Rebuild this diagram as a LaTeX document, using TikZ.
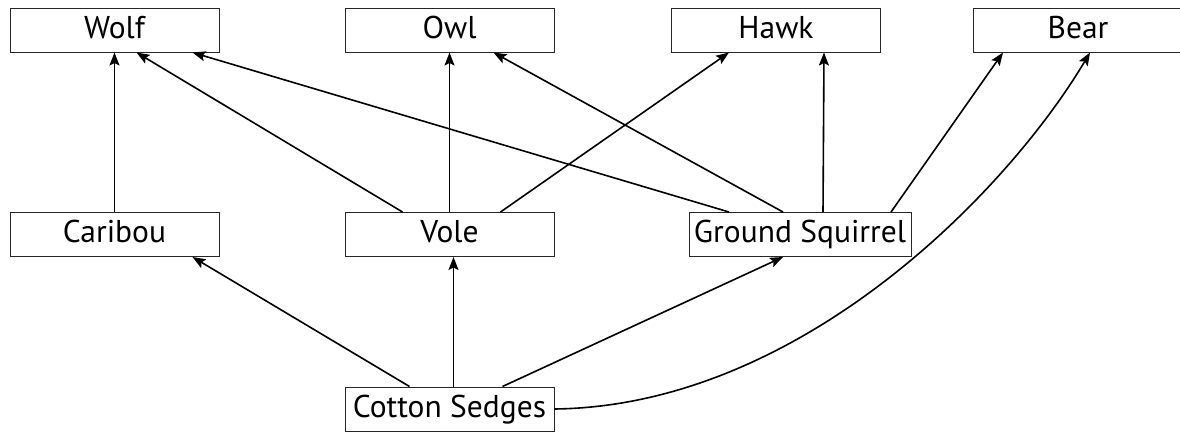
\documentclass[tikz,border=0pt]{standalone}
\usepackage{fontspec}
\setmainfont{PT Sans}
\usetikzlibrary{arrows.meta,calc}
\begin{document}
\begin{tikzpicture}[x=1pt,y=-1pt,
  box/.style={draw=black!85,line width=1pt,fill=white,inner sep=2pt,minimum height=44pt,font=\fontsize{31.5}{35}\selectfont,text height=22pt,text depth=6pt},
  wbox/.style={box,minimum width=209pt},
  link/.style={line width=1.6pt,-{Stealth[length=13pt,width=10pt,inset=2.5pt]}}]
\useasboundingbox (0,0) rectangle (1180,432);
\node[wbox] (wolf) at (114.5,30) {Wolf};
\node[wbox] (owl) at (449.5,30) {Owl};
\node[wbox] (hawk) at (776,30) {Hawk};
\node[wbox,minimum width=210pt] (bear) at (1078,30) {Bear};
\node[wbox] (caribou) at (114.5,234.5) {Caribou};
\node[wbox] (vole) at (449.5,234.5) {Vole};
\node[box,minimum width=222pt,inner sep=1pt] (gs) at (800,234.5) {Ground Squirrel};
\node[wbox] (cs) at (449.5,409) {Cotton Sedges};
% to top row
\draw[link] (caribou.north) -- (wolf.south);
\draw[link] ([xshift=-47pt]vole.north) -- ([xshift=22pt]wolf.south);
\draw[link] ([xshift=-71pt]gs.north) -- ([xshift=78pt]wolf.south);
\draw[link] (vole.north) -- (owl.south);
\draw[link] ([xshift=-17pt]gs.north) -- ([xshift=44pt]owl.south);
\draw[link] ([xshift=51pt]vole.north) -- ([xshift=-47pt]hawk.south);
\draw[link] ([xshift=23pt]gs.north) -- ([xshift=48pt]hawk.south);
\draw[link] ([xshift=91pt]gs.north) -- ([xshift=-75pt]bear.south);
% from cotton sedges
\draw[link] ([xshift=-40pt]cs.north) -- ([xshift=78pt]caribou.south);
\draw[link] ([xshift=4pt]cs.north) -- ([xshift=4pt]vole.south);
\draw[link] ([xshift=53pt]cs.north) -- ([xshift=-17pt]gs.south);
\draw[link] (cs.east) .. controls ($(cs.east)+(246,-3)$) and ($(bear.south)+(-70,138)$) .. ([xshift=12pt]bear.south);
\end{tikzpicture}
\end{document}
